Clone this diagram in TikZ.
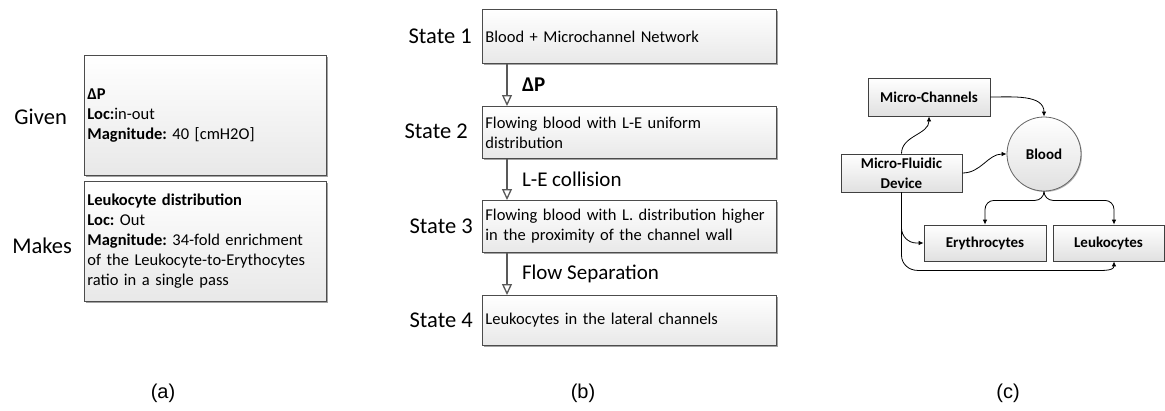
\documentclass[tikz,border=0pt]{standalone}
\usepackage{fontspec}
\setmainfont{Carlito}
\newfontfamily\capfont{Liberation Sans}
\usetikzlibrary{arrows.meta,shadows,calc}

\begin{document}
\frenchspacing
\begin{tikzpicture}[x=1pt,y=1pt,
  card/.style={draw=black!70, line width=0.8pt, top color=white, bottom color=black!9,
    drop shadow={shadow xshift=1.5pt, shadow yshift=-1.5pt, fill=black!40, opacity=0.9},
    inner xsep=3pt, inner ysep=0pt, align=left, anchor=north west,
    font=\fontsize{16.5}{20}\selectfont},
  sidelbl/.style={anchor=east, inner sep=0pt, font=\fontsize{22.5}{26}\selectfont},
  steplbl/.style={anchor=west, inner sep=0pt, xshift=14pt, font=\fontsize{21}{24}\selectfont},
  caption/.style={inner sep=0pt, font=\capfont\fontsize{20}{24}\selectfont},
  flow/.style={draw=black!65, line width=2pt,
    -{Triangle[open, length=11pt, width=10pt, line width=1.3pt, fill=white]}},
  cbox/.style={draw=black!75, line width=0.8pt, top color=white, bottom color=black!12,
    drop shadow={shadow xshift=1pt, shadow yshift=-1pt, fill=black!35, opacity=0.8},
    align=center, inner sep=0pt, font=\fontsize{15}{20}\selectfont\bfseries},
  link/.style={draw=black, line width=0.8pt, -{Latex[length=5pt, width=4.5pt]}}
]
\fill[white] (0,0) rectangle (1165,-410);
\useasboundingbox (0,0) rectangle (1165,-410);

% ---------- (a) requirement cards ----------
\node[card, text width=236pt, minimum height=120pt] (given) at (84,-55)
  {\textbf{ΔP}\\\textbf{Loc:}in-out\\\textbf{Magnitude:} 40 [cmH2O]};
\node[card, text width=236pt, minimum height=120pt] (makes) at (84,-181)
  {\textbf{Leukocyte distribution}\\\textbf{Loc:} Out\\\textbf{Magnitude:} 34-fold enrichment\\of the Leukocyte-to-Erythocytes\\ratio in a single pass};
\node[sidelbl] (givenlbl) at (67,-117) {Given};
\node[sidelbl] (makeslbl) at (72,-246) {Makes};
\node[caption] (capa) at (163,-393) {(a)};

% ---------- (b) state sequence ----------
\node[card, text width=288pt, minimum height=54pt] (s1) at (482,-9)
  {Blood + Microchannel Network};
\node[card, text width=288pt, minimum height=52pt] (s2) at (482,-106)
  {Flowing blood with L-E uniform\\distribution};
\node[card, text width=288pt, minimum height=52pt] (s3) at (482,-200)
  {Flowing blood with L. distribution higher\\in the proximity of the channel wall};
\node[card, text width=288pt, minimum height=50pt] (s4) at (482,-295)
  {Leukocytes in the lateral channels};

\node[sidelbl] (st1) at (472,-36) {State 1};
\node[sidelbl] (st2) at (468,-131) {State 2};
\node[sidelbl] (st3) at (473,-226) {State 3};
\node[sidelbl] (st4) at (473,-320) {State 4};

\draw[flow] ([xshift=25pt]s1.south west) -- ([xshift=25pt]s2.north west)
  node[midway, steplbl] {\textbf{ΔP}};
\draw[flow] ([xshift=25pt]s2.south west) -- ([xshift=25pt]s3.north west)
  node[midway, steplbl] {L-E collision};
\draw[flow] ([xshift=25pt]s3.south west) -- ([xshift=25pt]s4.north west)
  node[midway, steplbl] {Flow Separation};
\node[caption] (capb) at (583,-393) {(b)};

% ---------- (c) component graph ----------
\node[cbox, minimum width=122pt, minimum height=38pt] (mc) at (929,-97) {Micro-Channels};
\node[cbox, minimum width=121pt, minimum height=38pt] (mfd) at (901.5,-173) {Micro-Fluidic\\Device};
\node[cbox, circle, minimum size=74pt, draw=black!60] (blood) at (1044,-154) {Blood};
\node[cbox, minimum width=122pt, minimum height=36pt] (ery) at (985,-243) {Erythrocytes};
\node[cbox, minimum width=111pt, minimum height=36pt] (leuk) at (1108.5,-243) {Leukocytes};

\draw[link] (mc.east) to[out=0, in=90] (blood.north);
\draw[link] (mfd.north) to[out=90, in=-90] (mc.south);
\draw[link] (mfd.east) to[out=0, in=180] (blood.west);
\draw[link, rounded corners=9pt] (blood.south) -- ++(0,-9) -| (ery.north);
\draw[link, rounded corners=9pt] (blood.south) -- ++(0,-9) -| ([xshift=5.5pt]leuk.north);
\draw[link, rounded corners=15pt] (mfd.south) |- (ery.west);
\draw[link] (mfd.south) -- ++(0,-63) to[out=-90, in=180] ++(16,-15) -- ++(172,0)
  to[out=0, in=-90] ([xshift=5.5pt]leuk.south);
\node[caption] (capc) at (1008,-393) {(c)};
\end{tikzpicture}
\end{document}
